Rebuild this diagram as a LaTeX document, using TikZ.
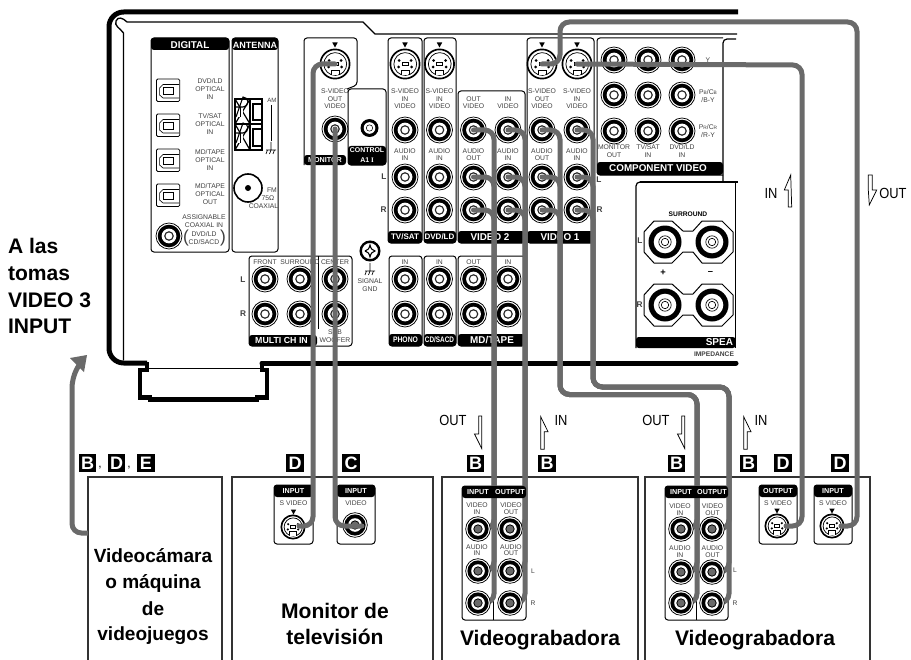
\documentclass[tikz,border=0pt]{standalone}
\usepackage{graphicx}
\usepackage{fontspec}
\setmainfont{Liberation Sans}
\newfontfamily\serifx{Liberation Serif}
\definecolor{cablec}{HTML}{6A6A6A}
\definecolor{labc}{HTML}{404040}
\newcounter{tn}
\tikzset{
  base/.style={inner sep=0pt,outer sep=0pt,align=center},
  lab/.style={base,text=labc,font=\fontsize{5.1}{6}\selectfont},
  labs/.style={base,text=labc,font=\fontsize{4.6}{5.4}\selectfont},
  sidel/.style={base,font=\bfseries\fontsize{6.2}{7}\selectfont,text=labc},
  bandt/.style={base,text=white,font=\bfseries\fontsize{7.4}{8}\selectfont},
  bandm/.style={base,text=white,font=\bfseries\fontsize{6}{7}\selectfont},
  bands/.style={base,text=white,font=\bfseries\fontsize{5.4}{6}\selectfont},
  panelb/.style={draw=black,line width=.75pt,rounded corners=2.2pt},
  bandb/.style={fill=black,rounded corners=2.2pt},
  cable/.style={draw=cablec,line width=3.75pt,line cap=round,rounded corners=7pt},
  devbox/.style={draw=black!80,line width=.85pt},
  devt/.style={base,font=\bfseries\fontsize{15.8}{18}\selectfont},
  devs/.style={base,font=\bfseries\fontsize{14.3}{18}\selectfont},
  leftt/.style={base,anchor=base west,font=\bfseries\fontsize{15.8}{18}\selectfont},
  arrt/.style={base,font=\fontsize{11}{12}\selectfont},
  letter/.style={base,fill=black,text=white,minimum size=12.8pt,font=\bfseries\fontsize{13.5}{13.5}\selectfont},
  hollow/.style={draw=black,line width=.55pt,fill=white,line join=miter},
}
\newcommand\T[4][lab]{\stepcounter{tn}\node[#1,name=t\arabic{tn}] at (#2,#3) {#4};}
\newcommand\Panel[4]{\draw[panelb] (#1,#2) rectangle (#3,#4);}
\newcommand\Band[4]{\fill[bandb] (#1,#2) rectangle (#3,#4);}
\newcommand\rca[3]{\coordinate (#1) at (#2,#3);
  \fill[white] (#1) circle (13.4);
  \draw[line width=.55pt] (#1) circle (13);
  \fill[black] (#1) circle (11.3);
  \fill[white] (#1) circle (7.4);
  \draw[line width=.85pt,black!85] (#1) circle (4.2);}
\newcommand\rcap[3]{\coordinate (#1) at (#2,#3);
  \fill[white] (#1) circle (12.6);
  \draw[line width=.55pt] (#1) circle (12.3);
  \fill[black] (#1) circle (10.6);
  \fill[white] (#1) circle (6.8);
  \fill[cablec] (#1) circle (4.2);
  \draw[line width=.6pt] (#1) circle (4.2);}
\newcommand\svj[4]{\coordinate (#1) at (#2,#3);
  \begin{scope}[shift={(#2,#3)},scale=#4]
  \fill[white] (0,0) circle (15);
  \draw[line width=1.25pt] (0,0) circle (14.6);
  \draw[line width=.55pt] (-4,10.6) arc (112:-292:11.4) ;
  \draw[line width=.55pt] (-4,10.6) -- (-4,6) -- (4,6) -- (4,10.6);
  \fill[white] (-3.4,11.5) rectangle (3.4,6.6);
  \fill (-6,-3.5) circle (1.5); \fill (6,-3.5) circle (1.5);
  \fill (-6.5,3) circle (1.5); \fill (6.5,3) circle (1.5);
  \draw[line width=.5pt] (-3,-2) rectangle (3,1.5);
  \end{scope}}
\newcommand\tri[2]{\fill (#1-2.7,#2-2.5) -- (#1+2.7,#2-2.5) -- (#1,#2+2.5) -- cycle;}
\newcommand\optp[1]{\begin{scope}[yshift=#1*-.75pt]
  \draw[line width=.65pt,rounded corners=1pt] (156.5,0) rectangle (179.7,22.5);
  \draw[line width=.45pt] (179,5.5) -- (163,5.5) -- (159.6,9) -- (159.6,16) -- (163,19) -- (179,19);
  \draw[line width=.45pt] (163.5,8.6) rectangle (173,15.6);
  \end{scope}}
\newcommand\gnd[2]{\draw[line width=.5pt] (#1,#2) -- (#1,#2+8) (#1-5,#2+8) -- (#1+5,#2+8)
  (#1-3.5,#2+8) -- (#1-5,#2+12) (#1,#2+8) -- (#1-1.5,#2+12) (#1+3.5,#2+8) -- (#1+2,#2+12);}
\newcommand\spk[3]{\coordinate (#1) at (#2,#3);
  \fill (#1) circle (16.5); \fill[white] (#1) circle (11.3);
  \draw[line width=.5pt] (#1) circle (6.2); \draw[line width=.5pt] (#1) circle (3.7);}
\newcommand\spkrow[1]{\begin{scope}[yshift=#1*-.75pt]
  \draw[line width=.75pt] (644,11) -- (654,0) -- (672,0) -- (683,10) -- (693,10) -- (702,0) -- (722,0) -- (733,11) -- (733,31) -- (722,42) -- (702,42) -- (693,31) -- (683,31) -- (672,42) -- (654,42) -- (644,31) -- cycle;
  \end{scope}}
\begin{document}
\begin{tikzpicture}[x=.75pt,y=-.75pt]
\useasboundingbox (0,0) rectangle (911,660);
\fill[white] (0,0) rectangle (911,660);
% chassis
\draw[line width=3.75pt,line join=round,rounded corners=11pt] (738,12) -- (109,12) -- (109,363) -- (147,363);
\draw[line width=3.2pt,line join=miter] (147,362) -- (147,370) -- (140,370) -- (140,397.5) -- (150,397.5) -- (150,399.5) -- (257,399.5) -- (257,397.5) -- (267,397.5) -- (267,370) -- (262,370) -- (262,362);
\draw[line width=3.75pt,line cap=round] (262,363) -- (736,363);
\draw[line width=.9pt] (147,368.5) -- (262,368.5);
\draw[line width=1pt] (123.5,360) -- (123.5,33) .. controls (120,28) and (114,26) .. (116,21) .. controls (118,16) and (123,18) .. (127,22) -- (363,22) -- (375,34) -- (737,34);
\draw[line width=.9pt,rounded corners=3pt] (736,39) -- (723,39) -- (723,182);
\draw[line width=.9pt] (640,182) -- (738,182) (735.5,182) -- (735.5,348);
% digital
\Panel{151}{38}{229}{252}
\Band{151}{38}{229}{50}
\T[bandt]{190}{45}{DIGITAL}
\Panel{232}{38}{278}{252}
\Band{232}{38}{278}{50}
\T[base,text=white,font=\bfseries\fontsize{6.8}{8}\selectfont]{255}{45.5}{ANTENNA}
\optp{79}\optp{114}\optp{149}\optp{184}
\T{210}{89}{DVD/LD\\OPTICAL\\IN}
\T{210}{124}{TV/SAT\\OPTICAL\\IN}
\T{210}{160}{MD/TAPE\\OPTICAL\\IN}
\T{210}{194}{MD/TAPE\\OPTICAL\\OUT}
\rca{coax}{169}{236}
\T{204}{221}{ASSIGNABLE\\COAXIAL IN}
\T{204}{238}{DVD/LD\\CD/SACD}
\T[base,font=\fontsize{13}{13}\selectfont,text=labc]{186}{238}{(}
\T[base,font=\fontsize{13}{13}\selectfont,text=labc]{223}{238}{)}
% AM block
\begin{scope}[line width=1.2pt]
\draw (235,99) rectangle (262,124); \draw (235,124) rectangle (262,150);
\draw (250,99) -- (250,150);
\draw[line width=.9pt] (235,99) -- (250,124) (250,99) -- (235,124) (235,124) -- (250,150) (250,124) -- (235,150);
\draw[line width=1.5pt] (253,104) rectangle (262,120); \draw[line width=1.5pt] (253,129) rectangle (262,146);
\fill[white] (238,107) rectangle (243,117); \fill[white] (238,133) rectangle (243,143);
\draw[line width=.8pt] (236,107) -- (243,107) arc (90:-90:5) -- (236,117);
\draw[line width=.8pt] (236,133) -- (243,133) arc (90:-90:5) -- (236,143);
\draw[line width=.7pt] (240,107) -- (240,117) (240,133) -- (240,143);
\end{scope}
\T[labs]{272}{100}{AM}
\draw[line width=.7pt] (271,105) -- (271,141);
\gnd{271}{142}
\coordinate (fm) at (248,188);
\draw[line width=1.2pt] (fm) circle (14);
\fill (fm) circle (3);
\T{272}{190}{FM}
\T{268}{198}{75Ω}
\T{263.5}{206}{COAXIAL}
% monitor
\draw[panelb] (304,165) -- (304,38) -- (357,38) -- (357,85) -- (347,89);
\Band{304}{155}{346}{165}
\T[bands]{325}{160}{MONITOR}
\svj{ms}{335}{64}{1}
\tri{335}{45}
\T{335}{91}{S-VIDEO}\T{335}{99}{OUT}\T{335}{106}{VIDEO}
\rca{mv}{335}{129}
\Panel{348}{89}{386}{165}
\Band{348}{146}{386}{165}
\T[base,text=white,font=\bfseries\fontsize{5.2}{7}\selectfont]{367}{150.5}{CONTROL}
\T[base,text=white,font=\bfseries\fontsize{5.2}{7}\selectfont]{367}{160}{A1 {\serifx I}}
\coordinate (ctl) at (369.5,128);
\fill (ctl) circle (9); \fill[white] (ctl) circle (5.8); \draw[line width=.4pt] (ctl) circle (3.2);
% TV/SAT DVD/LD
\foreach \xa/\xb/\xc/\lbl in {388/422/405/TV\slash SAT,424/456/439.5/DVD\slash LD}{
  \Panel{\xa}{38}{\xb}{243}
  \Band{\xa}{231}{\xb}{243}
  \T[bandm]{\xc}{237}{\lbl}
  \svj{x}{\xc}{64}{1}
  \tri{\xc}{45}
  \T{\xc}{91}{S-VIDEO}\T{\xc}{99}{IN}\T{\xc}{106}{VIDEO}
  \rca{x}{\xc}{130}
  \T{\xc}{151}{AUDIO}\T{\xc}{158.5}{IN}
  \rca{x}{\xc}{177}\rca{x}{\xc}{210}
}
\T[sidel]{384}{177}{L}\T[sidel]{383.5}{210}{R}
% VIDEO 2
\Panel{458}{91}{525}{243}
\Band{458}{231}{525}{243}
\T[bandt]{490}{237.5}{VIDEO 2}
\T{473.5}{99}{OUT}\T{473.5}{106}{VIDEO}\T{508}{99}{IN}\T{508}{106}{VIDEO}
\T{473.5}{151}{AUDIO}\T{473.5}{158.5}{OUT}\T{508}{151}{AUDIO}\T{508}{158.5}{IN}
\rca{aa}{473.5}{130}\rca{ab}{473.5}{177}\rca{ac}{473.5}{210}
\rca{ba}{508}{130}\rca{bb}{508}{177}\rca{bc}{508}{210}
% VIDEO 1
\Panel{527}{38}{594}{243}
\Band{527}{231}{594}{243}
\T[bandt]{560}{237.5}{VIDEO 1}
\svj{s1o}{542}{64}{1}\svj{s1i}{577}{64}{1}
\tri{542}{45}\tri{577}{45}
\T{542}{91}{S-VIDEO}\T{542}{99}{OUT}\T{542}{106}{VIDEO}
\T{577}{91}{S-VIDEO}\T{577}{99}{IN}\T{577}{106}{VIDEO}
\T{542}{151}{AUDIO}\T{542}{158.5}{OUT}\T{577}{151}{AUDIO}\T{577}{158.5}{IN}
\rca{ca}{542}{130}\rca{cb}{542}{177}\rca{cc}{542}{210}
\rca{da}{577}{130}\rca{db}{577}{177}\rca{dc}{577}{210}
\T[sidel]{599}{180}{L}\T[sidel]{599.5}{210}{R}
% component
\draw[panelb] (723,38) -- (597,38) -- (597,175) -- (723,175);
\fill[bandb] (597,162) rectangle (723,175);
\T[bandt]{658}{168.5}{COMPONENT VIDEO}
\foreach \xc in {614,648,682}{\foreach \yc in {60,95,131}{\rca{x}{\xc}{\yc}}}
\T{708}{60}{Y}
\T{708}{96}{P{\fontsize{3.6}{4}\selectfont B}/C{\fontsize{3.6}{4}\selectfont B}\\/B-Y}
\T{708}{131}{P{\fontsize{3.6}{4}\selectfont R}/C{\fontsize{3.6}{4}\selectfont R}\\/R-Y}
\T{614}{147}{MONITOR}\T{614}{155}{OUT}
\T{648}{147}{TV/SAT}\T{648}{155}{IN}
\T{682}{147}{DVD/LD}\T{682}{155}{IN}
% speaker
\draw[line width=.9pt] (636,348) -- (636,186) arc (180:270:4) -- (640,182);
\fill[black,rounded corners=2pt] (636,337) rectangle (735.5,348);
\T[base,text=white,anchor=east,font=\bfseries\fontsize{7.5}{8}\selectfont]{733}{342}{SPEA}
\T[base,font=\bfseries\fontsize{5}{6}\selectfont,text=labc,anchor=east]{734}{354}{IMPEDANCE}
\T[base,font=\bfseries\fontsize{5}{6}\selectfont]{688}{214.5}{SURROUND}
\spkrow{221}\spkrow{284}
\spk{x}{665}{242}\spk{x}{712}{242}\spk{x}{665}{305}\spk{x}{712}{305}
\T[base,font=\bfseries\fontsize{7}{8}\selectfont]{663}{273}{+}
\T[base,font=\bfseries\fontsize{7}{8}\selectfont]{710.5}{273}{–}
\T[sidel]{640}{241}{L}\T[sidel]{639.5}{305}{R}
% multi ch
\draw[panelb] (249,335) -- (249,256) -- (352,256) -- (352,346) -- (249,346) -- cycle;
\draw[line width=.75pt] (318,256) -- (318,329);
\Band{249}{335}{317}{346}
\T[base,text=white,font=\bfseries\fontsize{6.6}{8}\selectfont]{281.5}{340.5}{MULTI CH IN}
\foreach \xc/\lbl in {265/FRONT,300/SURROUND,335/CENTER}{
  \rca{x}{\xc}{279}\rca{x}{\xc}{314}
  \T{\xc}{262}{\lbl}}
\T{335}{332}{SUB}\T{335}{340}{WOOFER}
\T[sidel]{243}{280}{L}\T[sidel]{243}{314}{R}
% signal gnd
\coordinate (scr) at (370,251);
\draw[line width=1.8pt] (scr) circle (9.3);
\draw[line width=.8pt] (365,251) .. controls (368,250) and (369,249) .. (370,245) .. controls (371,249) and (372,250) .. (375,251) .. controls (372,252) and (371,253) .. (370,257) .. controls (369,253) and (368,252) .. (365,251);
\gnd{370}{263}
\T{370}{281}{SIGNAL}\T{370}{289}{GND}
% lower panels
\foreach \xa/\xb/\xc in {389/422/405,424/456/439.5}{
  \Panel{\xa}{256}{\xb}{346}
  \Band{\xa}{334}{\xb}{346}
  \T{\xc}{262}{IN}
  \rca{x}{\xc}{279}\rca{x}{\xc}{314}}
\T[base,text=white,font=\bfseries\fontsize{6}{7}\selectfont]{405.5}{340}{\scalebox{.85}[1]{PHONO}}
\T[base,text=white,font=\bfseries\fontsize{6}{7}\selectfont]{439.5}{340}{\scalebox{.8}[1]{CD/SACD}}
\Panel{458}{256}{525}{346}
\Band{458}{334}{525}{346}
\T[bandt]{492}{340}{MD/TAPE}
\T{473.5}{262}{OUT}\T{508}{262}{IN}
\rca{x}{473.5}{279}\rca{x}{473.5}{314}\rca{x}{508}{279}\rca{x}{508}{314}
% left text
\T[leftt]{8}{253}{A las}
\T[leftt]{8}{280}{tomas}
\T[leftt]{8}{307}{VIDEO 3}
\T[leftt]{8}{333}{INPUT}
% device boxes
\draw[devbox] (88,661) -- (88,477) -- (222,477) -- (222,661);
\draw[devbox] (232,661) -- (232,477) -- (433,477) -- (433,661);
\draw[devbox] (442,661) -- (442,477) -- (638,477) -- (638,661);
\draw[devbox] (645,661) -- (645,477) -- (870,477) -- (870,661);
\T[devs]{153}{556}{Videocámara}
\T[devs]{153}{583}{o máquina}
\T[devs]{153}{609}{de}
\T[devs]{153}{636}{videojuegos}
\T[devt]{335}{611}{Monitor de}
\T[devt]{335}{637}{televisión}
\T[devt]{540}{640}{Videograbadora}
\T[devt]{755}{640}{Videograbadora}
% letters
\T[letter]{87.5}{463}{B}\T[base,font=\fontsize{9}{9}\selectfont]{100}{468}{,}
\T[letter]{116.5}{463}{D}\T[base,font=\fontsize{9}{9}\selectfont]{129}{468}{,}
\T[letter]{146}{463}{E}
\T[letter]{295}{463}{D}\T[letter]{351}{463}{C}
\T[letter]{475.5}{463.5}{B}\T[letter]{547}{463.5}{B}
\T[letter]{676.5}{463.5}{B}\T[letter]{748.5}{463.5}{B}
\T[letter]{783}{463}{D}\T[letter]{840}{463}{D}
% IN / OUT arrows
\T[arrt]{453}{420}{\scalebox{.88}[1]{OUT}}
\draw[hollow] (478.7,416) -- (481.7,416) -- (481.7,448.5) -- (474.5,434) -- (478.7,434) -- cycle;
\T[arrt]{561}{420}{\scalebox{.88}[1]{IN}}
\draw[hollow] (540.7,416.7) -- (548,431.7) -- (544.3,431.7) -- (544.3,449.3) -- (540.7,449.3) -- cycle;
\T[arrt]{656}{420}{\scalebox{.88}[1]{OUT}}
\draw[hollow] (681.7,416) -- (684.7,416) -- (684.7,448.5) -- (677.5,434) -- (681.7,434) -- cycle;
\T[arrt]{761}{420}{\scalebox{.88}[1]{IN}}
\draw[hollow] (743.7,416.7) -- (751,431.7) -- (747.3,431.7) -- (747.3,449.3) -- (743.7,449.3) -- cycle;
\T[arrt]{771}{193}{\scalebox{.88}[1]{IN}}
\draw[hollow] (790.7,175) -- (784.3,190) -- (788.3,190) -- (788.3,207) -- (791.7,207) -- cycle;
\T[arrt]{893}{193}{\scalebox{.88}[1]{OUT}}
\draw[hollow] (868.3,175) -- (872.3,175) -- (872.3,190) -- (876.7,190) -- (869.3,205) -- (868.3,190) -- cycle;
% device mini panels
\Panel{274}{485}{313}{544}
\Band{274}{485}{313}{497}
\T[bands]{293.5}{491}{INPUT}
\T{293.5}{503}{S VIDEO}\tri{293.5}{512}
\svj{ds}{293}{527}{.8}
\Panel{337}{485}{375}{544}
\Band{337}{485}{375}{497}
\T[bands]{356}{491}{INPUT}
\T{356}{503}{VIDEO}
\rcap{dv}{355}{525}
\Panel{759}{485}{797}{544}
\Band{759}{485}{797}{497}
\T[bands]{778}{491}{OUTPUT}
\T{778}{503}{S VIDEO}\tri{777}{511}
\svj{vo}{777}{526}{.8}
\Panel{814}{485}{852}{544}
\Band{814}{485}{852}{497}
\T[bands]{833}{491}{INPUT}
\T{833}{503}{S VIDEO}\tri{832}{511}
\svj{vi}{832}{526}{.8}
\Panel{462}{486}{526}{620}
\draw[line width=.75pt] (493,498) -- (493,620);
\Panel{665}{486}{728}{620}
\draw[line width=.75pt] (696,498) -- (696,620);
\T[sidel,font=\fontsize{5}{6}\selectfont]{533}{571}{L}
\T[sidel,font=\fontsize{5}{6}\selectfont]{533}{603}{R}
\T[sidel,font=\fontsize{5}{6}\selectfont]{735}{570}{L}
\T[sidel,font=\fontsize{5}{6}\selectfont]{735}{603}{R}
% coordinates of cable routes
\coordinate (bus1) at (494,400);
\coordinate (bus2) at (525,400);
\coordinate (c1) at (560,394.5);
\coordinate (c2) at (697,394.5);
\coordinate (d1) at (593,387);
\coordinate (d2) at (729,387);
\coordinate (u1) at (560,22);
\coordinate (u2) at (857,22);
\coordinate (w1) at (802,65);
\coordinate (mb) at (313,300);
\coordinate (dsp) at (299,526);
\coordinate (dvp) at (362,526);
\coordinate (vop) at (786,526);
\coordinate (vip) at (841,526);
\coordinate (ma) at (478,529);\coordinate (mb1) at (478,571);\coordinate (mc) at (478,603);
\coordinate (na) at (510,529);\coordinate (nb) at (510,571);\coordinate (nc) at (510,603);
\coordinate (pa) at (681,529);\coordinate (pb) at (681,572);\coordinate (pc) at (681,603);
\coordinate (qa) at (712,529);\coordinate (qb) at (712,572);\coordinate (qc) at (712,603);
% cables
\draw[cable] (ms) -| (mb) |- (dsp);
\draw[cable] (mv) |- (dvp);
\draw[cable] (aa) -| (bus1) |- (ma);
\draw[cable] (ab) -| (bus1) |- (mb1);
\draw[cable] (ac) -| (bus1) |- (mc);
\draw[cable] (ba) -| (bus2) |- (na);
\draw[cable] (bb) -| (bus2) |- (nb);
\draw[cable] (bc) -| (bus2) |- (nc);
\draw[cable] (ca) -| (c1) -- (c2) |- (pa);
\draw[cable] (cb) -| (c1) -- (c2) |- (pb);
\draw[cable] (cc) -| (c1) -- (c2) |- (pc);
\draw[cable] (da) -| (d1) -- (d2) |- (qa);
\draw[cable] (db) -| (d1) -- (d2) |- (qb);
\draw[cable] (dc) -| (d1) -- (d2) |- (qc);
\draw[cable] (s1o) -| (u1) -- (u2) |- (vip);
\draw[cable] (s1i) -- (w1) |- (vop);
% game console arrow
\coordinate (gb) at (88,533);
\coordinate (ga) at (72,533);
\coordinate (gc) at (72,378);
\coordinate (gd) at (79,365);
\coordinate (gt) at (87,355);
\draw[cable,line cap=butt] (gb) -- (ga) -- (gc) -- (gd);
\fill[cablec] (gt) -- (70,358) -- (84,372) -- cycle;
% device headers and jacks over cables
\Band{462}{486}{526}{498}
\T[bands]{478}{492}{INPUT}\T[bands]{510}{492}{OUTPUT}
\T{477}{505}{VIDEO}\T{477}{512}{IN}\T{511}{505}{VIDEO}\T{511}{512}{OUT}
\T{477}{547}{AUDIO}\T{477}{553.5}{IN}\T{511}{547}{AUDIO}\T{511}{553.5}{OUT}
\rcap{x}{478}{529}\rcap{x}{478}{571}\rcap{x}{478}{603}
\rcap{x}{510}{529}\rcap{x}{510}{571}\rcap{x}{510}{603}
\Band{665}{486}{728}{498}
\T[bands]{681}{492}{INPUT}\T[bands]{712}{492}{OUTPUT}
\T{680}{506}{VIDEO}\T{680}{513}{IN}\T{712.5}{506}{VIDEO}\T{712.5}{513}{OUT}
\T{680}{548}{AUDIO}\T{680}{555}{IN}\T{712.5}{548}{AUDIO}\T{712.5}{555}{OUT}
\rcap{x}{681}{529}\rcap{x}{681}{572}\rcap{x}{681}{603}
\rcap{x}{712}{529}\rcap{x}{712}{572}\rcap{x}{712}{603}
\end{tikzpicture}
\end{document}
